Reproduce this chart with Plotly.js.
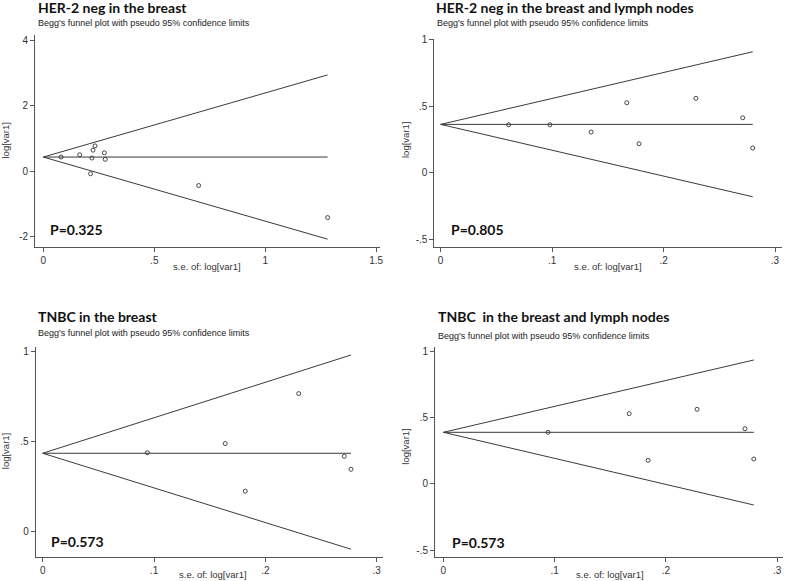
<!DOCTYPE html>
<html>
<head>
<meta charset="utf-8">
<script src="https://cdn.plot.ly/plotly-3.0.1.min.js"></script>
<style>
  html, body { margin: 0; padding: 0; background: #fff; }
  #plot { width: 785px; height: 581px; }
</style>
</head>
<body>
<div id="plot"></div>
<script>
// panel texts
const panelTitles = ['HER-2 neg in the breast', 'HER-2 neg in the breast and lymph nodes',
                     'TNBC in the breast', 'TNBC  in the breast and lymph nodes'];
const subTitle = "Begg's funnel plot with pseudo 95% confidence limits";
const pValues = ['P=0.325', 'P=0.805', 'P=0.573', 'P=0.573'];

// studies: s.e. of log[var1] and log[var1]
const her2BreastSe  = [0.080, 0.164, 0.233, 0.224, 0.219, 0.275, 0.279, 0.213, 0.700, 1.281];
const her2BreastLog = [0.43, 0.50, 0.77, 0.64, 0.40, 0.56, 0.36, -0.08, -0.44, -1.42];
const her2NodesSe   = [0.061, 0.098, 0.135, 0.167, 0.178, 0.229, 0.271, 0.280];
const her2NodesLog  = [0.361, 0.361, 0.306, 0.527, 0.218, 0.560, 0.414, 0.186];
const tnbcBreastSe  = [0.094, 0.164, 0.182, 0.230, 0.271, 0.277];
const tnbcBreastLog = [0.437, 0.488, 0.223, 0.766, 0.417, 0.345];
const tnbcNodesSe   = [0.094, 0.167, 0.184, 0.228, 0.271, 0.279];
const tnbcNodesLog  = [0.391, 0.532, 0.179, 0.565, 0.418, 0.189];

// pooled estimate and pseudo 95% limits at the largest s.e.
const pooled   = [0.43, 0.364, 0.434, 0.391];
const seMax    = [1.281, 0.280, 0.277, 0.279];
const upperEnd = [2.94, 0.911, 0.981, 0.938];
const lowerEnd = [-2.08, -0.181, -0.100, -0.159];

// tick labels
const xTicks1 = [0, 0.5, 1, 1.5],  xLabels1 = ['0', '.5', '1', '1.5'];
const xTicks2 = [0, 0.1, 0.2, 0.3], xLabels2 = ['0', '.1', '.2', '.3'];
const yTicks1 = [-2, 0, 2, 4],     yLabels1 = ['-2', '0', '2', '4'];
const yTicks2 = [-0.5, 0, 0.5, 1], yLabels2 = ['-.5', '0', '.5', '1'];
const yTicks3 = [0, 0.5, 1],       yLabels3 = ['0', '.5', '1'];

const W = 785, H = 581;
const seArrays = [her2BreastSe, her2NodesSe, tnbcBreastSe, tnbcNodesSe];
const logArrays = [her2BreastLog, her2NodesLog, tnbcBreastLog, tnbcNodesLog];

// plot regions in pixels: left, right, top, bottom
const boxes = [
  [35, 380, 35, 246.7],
  [434.3, 781.7, 39, 246.7],
  [35.7, 383.3, 346.7, 557.3],
  [435, 783.3, 347.3, 556.7]
];
const xRanges = [[-0.0374, 1.517], [-0.0057, 0.306], [-0.0063, 0.306], [-0.0075, 0.3055]];
const yRanges = [[-2.31, 4.16], [-0.557, 1.007], [-0.145, 1.027], [-0.55, 1.034]];
const xTickSets = [[xTicks1, xLabels1], [xTicks2, xLabels2], [xTicks2, xLabels2], [xTicks2, xLabels2]];
const yTickSets = [[yTicks1, yLabels1], [yTicks2, yLabels2], [yTicks3, yLabels3], [yTicks2, yLabels2]];

const lineColor = '#3a3a3a';
const traces = [];
const layout = {
  width: W, height: H,
  margin: { l: 0, r: 0, t: 0, b: 0 },
  paper_bgcolor: '#fff', plot_bgcolor: '#fff',
  showlegend: false,
  font: { family: 'Liberation Sans, Arial, sans-serif', color: '#333', size: 10 },
  annotations: []
};

for (let i = 0; i < 4; i++) {
  const n = i === 0 ? '' : String(i + 1);
  const xa = 'x' + n, ya = 'y' + n;
  const [l, r, t, b] = boxes[i];

  // funnel limits and pooled line
  traces.push({ x: [0, seMax[i]], y: [pooled[i], upperEnd[i]], xaxis: xa, yaxis: ya,
                mode: 'lines', line: { color: lineColor, width: 1 }, hoverinfo: 'skip' });
  traces.push({ x: [0, seMax[i]], y: [pooled[i], lowerEnd[i]], xaxis: xa, yaxis: ya,
                mode: 'lines', line: { color: lineColor, width: 1 }, hoverinfo: 'skip' });
  traces.push({ x: [0, seMax[i]], y: [pooled[i], pooled[i]], xaxis: xa, yaxis: ya,
                mode: 'lines', line: { color: lineColor, width: 1 }, hoverinfo: 'skip' });
  // studies
  traces.push({ x: seArrays[i], y: logArrays[i], xaxis: xa, yaxis: ya, mode: 'markers',
                marker: { symbol: 'circle-open', size: 4, color: '#333', line: { width: 0.9 } } });

  const axisBase = {
    showgrid: false, zeroline: false, showline: true, linecolor: '#555', linewidth: 1,
    ticks: 'outside', ticklen: 4, tickcolor: '#555', tickwidth: 1,
    tickfont: { size: 10, color: '#333' }
  };
  layout['xaxis' + n] = Object.assign({}, axisBase, {
    domain: [l / W, r / W], anchor: ya, range: xRanges[i],
    tickvals: xTickSets[i][0], ticktext: xTickSets[i][1]
  });
  layout['yaxis' + n] = Object.assign({}, axisBase, {
    domain: [1 - b / H, 1 - t / H], anchor: xa, range: yRanges[i],
    tickvals: yTickSets[i][0], ticktext: yTickSets[i][1]
  });
}

// text positions: title, subtitle, P value, y title, x title (pixels)
const titlePos = [[36, 7], [434, 7], [36, 316], [435.5, 316]];
const subPos = [[36, 22.7], [434.5, 22.7], [36, 333.3], [435.5, 335.5]];
const pPos = [[48.3, 229.3], [449.3, 229.3], [49.3, 541.7], [450, 542.3]];
const yTitlePos = [[5, 140.5], [405.5, 140.5], [5.5, 451.7], [406, 446.7]];
const xTitlePos = [[206.7, 266.7], [608.3, 266.3], [213.3, 574.5], [610, 574.5]];

function addText(text, pos, opts) {
  layout.annotations.push(Object.assign({
    xref: 'paper', yref: 'paper', x: pos[0] / W, y: 1 - pos[1] / H,
    xanchor: 'left', yanchor: 'middle', showarrow: false, text: text
  }, opts));
}

for (let i = 0; i < 4; i++) {
  addText('<b>' + panelTitles[i].replace(/  /g, ' &nbsp;') + '</b>', titlePos[i],
          { font: { family: 'Lato, sans-serif', size: 14, color: '#111' } });
  addText(subTitle, subPos[i], { font: { family: 'Liberation Sans, Arial', size: 9, color: '#222' } });
  addText('<b>' + pValues[i] + '</b>', pPos[i], { font: { family: 'Lato, sans-serif', size: 14, color: '#111' } });
  addText('log[var1]', yTitlePos[i], { xanchor: 'center', textangle: -90,
          font: { family: 'Liberation Sans, Arial', size: 9.5, color: '#333' } });
  addText('s.e. of: log[var1]', xTitlePos[i], { xanchor: 'center',
          font: { family: 'Liberation Sans, Arial', size: 9.5, color: '#333' } });
}

Plotly.newPlot('plot', traces, layout, { displayModeBar: false, staticPlot: true });
</script>
</body>
</html>
